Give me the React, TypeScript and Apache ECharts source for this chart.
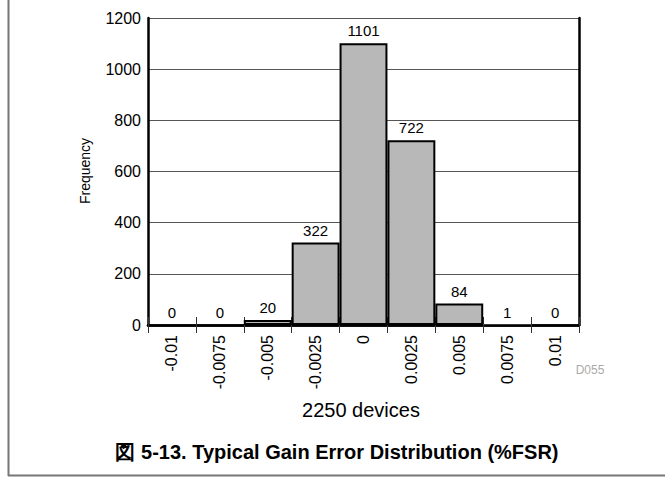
import React, { useEffect, useRef } from "react";
import * as echarts from "echarts";

const categories = ["-0.01", "-0.0075", "-0.005", "-0.0025", "0", "0.0025", "0.005", "0.0075", "0.01"];
const counts = [0, 0, 20, 322, 1101, 722, 84, 1, 0];
const yTicks = { min: 0, max: 1200, interval: 200 };
const yTitle = "Frequency";
const xTitle = "2250 devices";
const caption = "図 5-13. Typical Gain Error Distribution (%FSR)";
const code = "D055";

const FONT = "'Liberation Sans', Arial, Helvetica, sans-serif";

export default function App() {
  const ref = useRef<HTMLDivElement>(null);
  useEffect(() => {
    if (!ref.current) return;
    const chart = echarts.init(ref.current, null, { renderer: "svg" });
    const barData = counts.map((v) => ({
      value: v,
      itemStyle: v < 5 ? { borderWidth: 0 } : undefined,
    }));
    chart.setOption({
      animation: false,
      backgroundColor: "#fff",
      textStyle: { fontFamily: FONT },
      grid: { left: 148, top: 18, width: 431, height: 307, containLabel: false },
      xAxis: [
        {
          type: "category",
          data: categories,
          position: "bottom",
          boundaryGap: true,
          axisLine: { show: true, lineStyle: { color: "#000", width: 2.5 } },
          axisTick: { show: true, interval: 0, length: 8, lineStyle: { color: "#333", width: 1 } },
          axisLabel: { interval: 0, rotate: 90, fontSize: 16, color: "#000", margin: 10, fontFamily: FONT },
          splitLine: { show: false },
        },
        {
          type: "category",
          data: categories,
          position: "top",
          boundaryGap: true,
          axisLine: { show: true, lineStyle: { color: "#000", width: 2.5 } },
          axisTick: { show: true, interval: 0, length: 8, lineStyle: { color: "#333", width: 1 } },
          axisLabel: { show: false },
          splitLine: { show: false },
        },
      ],
      yAxis: [
        {
          type: "value",
          min: yTicks.min,
          max: yTicks.max,
          interval: yTicks.interval,
          position: "left",
          axisLine: { show: true, lineStyle: { color: "#000", width: 2.5 } },
          axisTick: { show: false },
          axisLabel: {
            fontSize: 16,
            color: "#000",
            margin: 7,
            fontFamily: FONT,
            formatter: (v: number) => String(v),
          },
          splitLine: { show: true, lineStyle: { color: "#555", width: 1 } },
        },
        {
          type: "value",
          min: yTicks.min,
          max: yTicks.max,
          interval: yTicks.interval,
          position: "right",
          axisLine: { show: true, lineStyle: { color: "#000", width: 2.5 } },
          axisTick: { show: false },
          axisLabel: { show: false },
          splitLine: { show: false },
        },
      ],
      series: [
        {
          type: "bar",
          data: barData,
          xAxisIndex: 0,
          yAxisIndex: 0,
          barCategoryGap: "0%",
          itemStyle: { color: "#b8b8b8", borderColor: "#000", borderWidth: 2 },
          label: { show: true, position: "top", distance: 5, fontSize: 15, color: "#000", fontFamily: FONT },
          z: 3,
        },
      ],
      graphic: [
        {
          type: "text",
          x: 85,
          y: 171,
          rotation: Math.PI / 2,
          style: { text: yTitle, fontSize: 14, fill: "#000", fontFamily: FONT, align: "center", verticalAlign: "middle" },
        },
        {
          type: "text",
          x: 361,
          y: 410,
          style: { text: xTitle, fontSize: 20, fill: "#000", fontFamily: FONT, align: "center", verticalAlign: "middle" },
        },
        {
          type: "text",
          x: 337,
          y: 452,
          style: { text: caption, fontSize: 20, fontWeight: "bold", fill: "#000", fontFamily: FONT, align: "center", verticalAlign: "middle" },
        },
        {
          type: "text",
          x: 590,
          y: 370,
          style: { text: code, fontSize: 12, fill: "#aaa", fontFamily: FONT, align: "center", verticalAlign: "middle" },
        },
        {
          type: "line",
          shape: { x1: 8.5, y1: 0, x2: 8.5, y2: 476 },
          style: { stroke: "#777", lineWidth: 2 },
        },
        {
          type: "line",
          shape: { x1: 8, y1: 475.5, x2: 665, y2: 475.5 },
          style: { stroke: "#777", lineWidth: 2 },
        },
      ],
    });
    return () => chart.dispose();
  }, []);
  return <div ref={ref} style={{ position: "fixed", left: 0, top: 0, width: 665, height: 477 }} />;
}
